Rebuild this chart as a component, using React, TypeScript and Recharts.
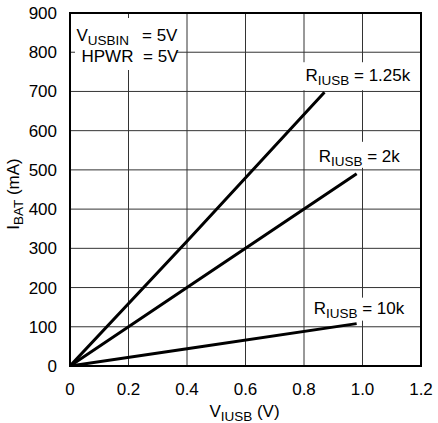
import { LineChart, Line, XAxis, YAxis, CartesianGrid, ReferenceDot, ReferenceArea } from "recharts";

const FONT = "'Liberation Sans', Arial, Helvetica, sans-serif";

const xTicks = [0, 0.2, 0.4, 0.6, 0.8, 1.0, 1.2];
const yTicks = [0, 100, 200, 300, 400, 500, 600, 700, 800, 900];

// V_IUSB (V) / I_BAT (mA)
const r125V = [0, 0.4, 0.87];
const r125I = [0, 318, 698];
const r2kV = [0, 0.4, 0.98];
const r2kI = [0, 200, 490];
const r10kV = [0, 0.4, 0.98];
const r10kI = [0, 44, 108];

const toPoints = (vs: number[], is: number[]) => vs.map((v, k) => ({ v, i: is[k] }));

const r125 = toPoints(r125V, r125I);
const r2k = toPoints(r2kV, r2kI);
const r10k = toPoints(r10kV, r10kI);

const last = (arr: { v: number; i: number }[]) => arr[arr.length - 1];

function center(vb: any) {
  const w = vb?.width || 0;
  const h = vb?.height || 0;
  return { cx: (vb?.x || 0) + w / 2, cy: (vb?.y || 0) + h / 2 };
}

function SubText({ x, y, main, sub, rest, anchor = "start" }: any) {
  return (
    <text x={x} y={y} fontSize={17} fontFamily={FONT} fill="#000" textAnchor={anchor}>
      {main}
      <tspan fontSize={13.5} dy={4}>{sub}</tspan>
      <tspan dy={-4}>{rest}</tspan>
    </text>
  );
}

function RLabel({ viewBox, value, box, tx, ty }: any) {
  const { cx, cy } = center(viewBox);
  return (
    <g>
      <rect x={cx + box[0]} y={cy + box[1]} width={box[2]} height={box[3]} fill="#fff" />
      <SubText x={cx + tx} y={cy + ty} main="R" sub="IUSB" rest={` = ${value}`} />
    </g>
  );
}

function CondNote({ viewBox }: any) {
  const { cx, cy } = center(viewBox);
  return (
    <g>
      <rect x={cx + 5} y={cy + 5} width={101} height={52} fill="#fff" />
      <SubText x={cx + 6.5} y={cy + 27.7} main="V" sub="USBIN" rest="" />
      <text x={cx + 72} y={cy + 27.7} fontSize={17} fontFamily={FONT} fill="#000">= 5V</text>
      <text x={cx + 11.5} y={cy + 48.7} fontSize={17} fontFamily={FONT} fill="#000">HPWR</text>
      <text x={cx + 73} y={cy + 48.7} fontSize={17} fontFamily={FONT} fill="#000">= 5V</text>
    </g>
  );
}

function XTitle({ viewBox }: any) {
  const x = viewBox.x + viewBox.width / 2 - 1;
  const y = viewBox.y + 51;
  return <SubText x={x} y={y} main="V" sub="IUSB" rest=" (V)" anchor="middle" />;
}

function YTitle() {
  return (
    <g transform="rotate(-90, 18.5, 194)">
      <SubText x={18.5} y={194} main="I" sub="BAT" rest=" (mA)" anchor="middle" />
    </g>
  );
}

const tickStyle = { fontSize: 17, fontFamily: FONT, fill: "#000" };

export default function App() {
  return (
    <div style={{ width: 438, height: 423, background: "#fff" }}>
      <style>{"body{margin:0}"}</style>
      <LineChart width={438} height={423} margin={{ top: 13, right: 17, left: 0, bottom: 0 }}>
        <CartesianGrid stroke="#333" strokeWidth={1} horizontalValues={yTicks} verticalValues={xTicks} />
        <XAxis
          dataKey="v"
          type="number"
          domain={[0, 1.2]}
          ticks={xTicks}
          allowDataOverflow
          height={57}
          tickSize={0}
          tickMargin={17}
          axisLine={false}
          tick={tickStyle}
          tickFormatter={(v: number) => (v === 0 ? "0" : v.toFixed(1))}
          label={{ content: (p: any) => <XTitle viewBox={p.viewBox} /> }}
        />
        <YAxis
          type="number"
          domain={[0, 900]}
          ticks={yTicks}
          allowDataOverflow
          width={70}
          tickSize={0}
          tickMargin={13}
          axisLine={false}
          tick={tickStyle}
          label={{ content: () => <YTitle /> }}
        />
        <ReferenceDot x={0} y={900} r={0} ifOverflow="visible" label={(p: any) => <CondNote viewBox={p.viewBox} />} />
        <ReferenceDot
          x={last(r125).v}
          y={last(r125).i}
          r={0}
          ifOverflow="visible"
          label={(p: any) => <RLabel viewBox={p.viewBox} value="1.25k" box={[-25, -30, 112, 28]} tx={-19} ty={-11} />}
        />
        <ReferenceDot
          x={last(r2k).v}
          y={last(r2k).i}
          r={0}
          ifOverflow="visible"
          label={(p: any) => <RLabel viewBox={p.viewBox} value="2k" box={[-43, -32, 88, 26]} tx={-38} ty={-12} />}
        />
        <ReferenceDot
          x={last(r10k).v}
          y={last(r10k).i}
          r={0}
          ifOverflow="visible"
          label={(p: any) => <RLabel viewBox={p.viewBox} value="10k" box={[-48, -26, 98, 23]} tx={-43} ty={-10} />}
        />
        <Line data={r125} dataKey="i" type="linear" stroke="#000" strokeWidth={3} dot={false} isAnimationActive={false} />
        <Line data={r2k} dataKey="i" type="linear" stroke="#000" strokeWidth={3} dot={false} isAnimationActive={false} />
        <Line data={r10k} dataKey="i" type="linear" stroke="#000" strokeWidth={3} dot={false} isAnimationActive={false} />
        <ReferenceArea x1={0} x2={1.2} y1={0} y2={900} fill="none" stroke="#000" strokeWidth={2} ifOverflow="visible" />
      </LineChart>
    </div>
  );
}
